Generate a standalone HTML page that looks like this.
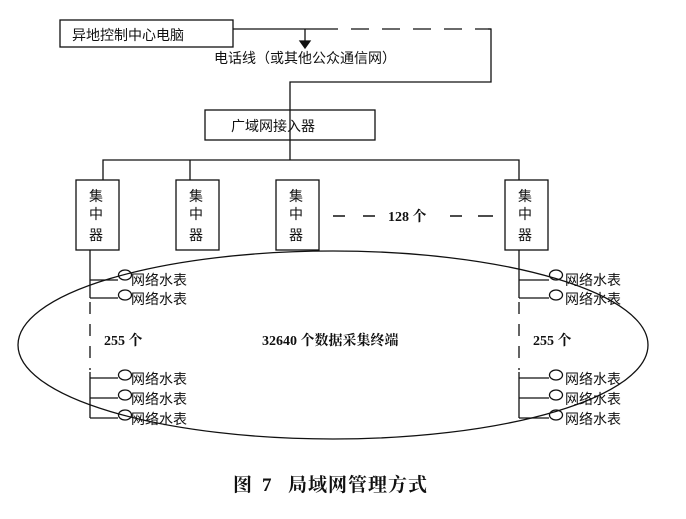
<!DOCTYPE html>
<html><head><meta charset="utf-8"><style>
html,body{margin:0;padding:0;background:#fff;}
svg text{font-family:"Liberation Serif","Noto Serif CJK SC",serif;fill:#111;}
.s{font-family:"Liberation Sans","Noto Sans CJK SC",sans-serif !important;}
</style></head><body>
<svg width="686" height="514" xmlns="http://www.w3.org/2000/svg" stroke="#111" stroke-width="1.3" fill="none">
<rect x="60" y="20" width="173" height="27"/>
<text x="72" y="40" font-size="14" stroke="none" class="s">异地控制中心电脑</text>
<line x1="233" y1="29" x2="320" y2="29"/>
<line x1="320" y1="29" x2="491" y2="29" stroke-dasharray="18,13"/>
<polyline points="488,29 491,29 491,82 290,82 290,160"/>
<line x1="305" y1="29" x2="305" y2="42"/>
<polygon points="300,41 310,41 305,48" fill="#111"/>
<text x="214" y="63" font-size="14" stroke="none" class="s">电话线（或其他公众通信网）</text>
<rect x="205" y="110" width="170" height="30"/>
<text x="231" y="131" font-size="14" stroke="none" class="s">广域网接入器</text>
<polyline points="103,180 103,160 519,160 519,180"/>
<line x1="190" y1="160" x2="190" y2="180"/>
<rect x="76" y="180" width="43" height="70"/>
<rect x="176" y="180" width="43" height="70"/>
<rect x="276" y="180" width="43" height="70"/>
<rect x="505" y="180" width="43" height="70"/>
<g stroke="none" font-size="14" class="s">
<text x="89" y="201" class="s">集</text><text x="89" y="219" class="s">中</text><text x="89" y="240" class="s">器</text>
<text x="189" y="201" class="s">集</text><text x="189" y="219" class="s">中</text><text x="189" y="240" class="s">器</text>
<text x="289" y="201" class="s">集</text><text x="289" y="219" class="s">中</text><text x="289" y="240" class="s">器</text>
<text x="518" y="201" class="s">集</text><text x="518" y="219" class="s">中</text><text x="518" y="240" class="s">器</text>
</g>
<g stroke-width="1.5">
<line x1="333" y1="216" x2="345" y2="216"/><line x1="363" y1="216" x2="375" y2="216"/>
<line x1="450" y1="216" x2="462" y2="216"/><line x1="478" y1="216" x2="493" y2="216"/>
</g>
<text x="388" y="221" font-size="14" font-weight="bold" stroke="none">128 个</text>
<ellipse cx="333" cy="345" rx="315" ry="94"/>
<line x1="90" y1="250" x2="90" y2="298"/>
<line x1="90" y1="302" x2="90" y2="370" stroke-dasharray="12,10"/>
<line x1="90" y1="372" x2="90" y2="418"/>
<line x1="519" y1="250" x2="519" y2="298"/>
<line x1="519" y1="302" x2="519" y2="370" stroke-dasharray="12,10"/>
<line x1="519" y1="372" x2="519" y2="418"/>
<path d="M90 280 H118 M90 298 H118 M90 378 H118 M90 398 H118 M90 418 H118"/>
<g>
<ellipse cx="125" cy="275" rx="6.5" ry="5"/><ellipse cx="125" cy="295" rx="6.5" ry="5"/>
<ellipse cx="125" cy="375" rx="6.5" ry="5"/><ellipse cx="125" cy="395" rx="6.5" ry="5"/><ellipse cx="125" cy="415" rx="6.5" ry="5"/>
</g>
<path d="M519 280 H549 M519 298 H549 M519 378 H549 M519 398 H549 M519 418 H549"/>
<g>
<ellipse cx="556" cy="275" rx="6.5" ry="5"/><ellipse cx="556" cy="295" rx="6.5" ry="5"/>
<ellipse cx="556" cy="375" rx="6.5" ry="5"/><ellipse cx="556" cy="395" rx="6.5" ry="5"/><ellipse cx="556" cy="415" rx="6.5" ry="5"/>
</g>
<g stroke="none" font-size="14">
<text x="131" y="285" class="s">网络水表</text><text x="131" y="304" class="s">网络水表</text>
<text x="131" y="384" class="s">网络水表</text><text x="131" y="404" class="s">网络水表</text><text x="131" y="424" class="s">网络水表</text>
<text x="565" y="285" class="s">网络水表</text><text x="565" y="304" class="s">网络水表</text>
<text x="565" y="384" class="s">网络水表</text><text x="565" y="404" class="s">网络水表</text><text x="565" y="424" class="s">网络水表</text>
</g>
<g stroke="none" font-size="14" font-weight="bold">
<text x="104" y="345">255 个</text>
<text x="262" y="345">32640 个数据采集终端</text>
<text x="533" y="345">255 个</text>
</g>
<g stroke="none" font-size="19" font-weight="bold">
<text x="233" y="491">图</text>
<text x="262" y="491">7</text>
<text x="288" y="491" letter-spacing="1">局域网管理方式</text>
</g>
</svg>
</body></html>
